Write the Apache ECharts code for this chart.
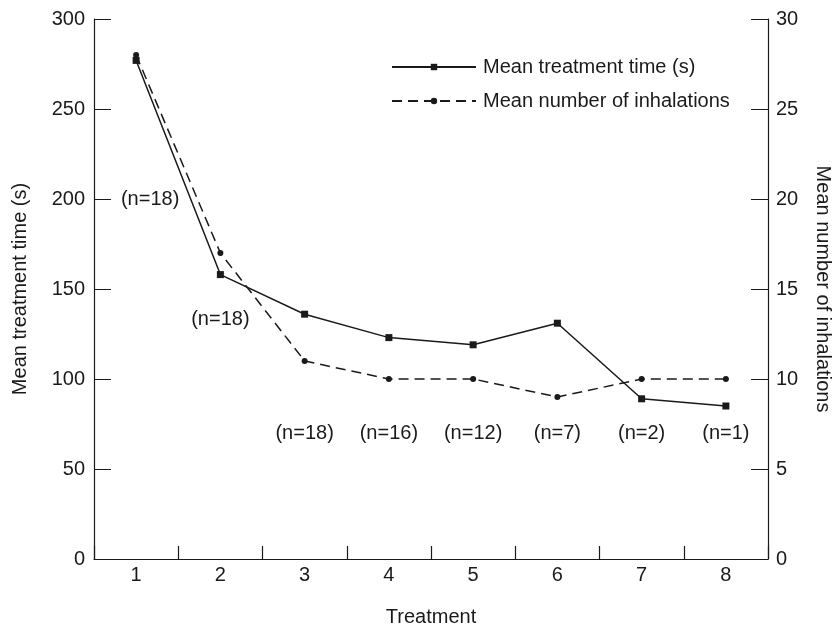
<!DOCTYPE html>
<html>
<head>
<meta charset="utf-8">
<script src="https://cdn.jsdelivr.net/npm/echarts@6/dist/echarts.min.js"></script>
<style>
  html, body { margin: 0; padding: 0; background: #fff; }
  #chart { width: 835px; height: 628px; }
</style>
</head>
<body>
<div id="chart"></div>
<script>
const treatments = ["1", "2", "3", "4", "5", "6", "7", "8"]
const meanTime = [277, 158, 136, 123, 119, 131, 89, 85]
const meanInhalations = [28, 17, 11, 10, 10, 9, 10, 10]
const nLabels = ["(n=18)", "(n=18)", "(n=18)", "(n=16)", "(n=12)", "(n=7)", "(n=2)", "(n=1)"]
// where each (n=..) note sits, in left-axis units
const nLabelAt = [200, 133, 70, 70, 70, 70, 70, 70]

const ink = "#1a1a1a"
const font = "Liberation Sans, Arial, sans-serif"

const chart = echarts.init(document.getElementById("chart"))

const option = {
  animation: false,
  textStyle: { fontFamily: font, color: ink },
  grid: { left: 94, right: 67, top: 19, bottom: 69, outerBoundsMode: "none" },
  legend: {
    orient: "vertical",
    left: 386,
    top: 52,
    itemWidth: 84,
    itemHeight: 8,
    itemGap: 14,
    data: ["Mean treatment time (s)", "Mean number of inhalations"],
    textStyle: { fontSize: 20, color: ink, fontFamily: font, padding: [0, 0, 0, 2] },
  },
  xAxis: {
    type: "category",
    data: treatments,
    name: "Treatment",
    nameLocation: "middle",
    nameGap: 48,
    nameTextStyle: { fontSize: 20, color: ink },
    axisLine: { lineStyle: { color: ink, width: 1.2 } },
    axisTick: { show: true, inside: true, length: 13, lineStyle: { color: ink, width: 1.2 } },
    axisLabel: { fontSize: 20, color: ink, margin: 6 },
  },
  yAxis: [
    {
      type: "value",
      min: 0,
      max: 300,
      interval: 50,
      name: "Mean treatment time (s)",
      nameLocation: "middle",
      nameGap: 64,
      nameTextStyle: { fontSize: 20, color: ink },
      axisLine: { show: true, lineStyle: { color: ink, width: 1.2 } },
      axisTick: { show: true, inside: true, length: 17, lineStyle: { color: ink } },
      axisLabel: { fontSize: 20, color: ink, margin: 9 },
      splitLine: { show: false },
    },
    {
      type: "value",
      min: 0,
      max: 30,
      interval: 5,
      position: "right",
      name: "Mean number of inhalations",
      nameLocation: "middle",
      nameRotate: -90,
      nameGap: 45,
      nameTextStyle: { fontSize: 20, color: ink },
      axisLine: { show: true, lineStyle: { color: ink, width: 1.2 } },
      axisTick: { show: true, inside: true, length: 17, lineStyle: { color: ink } },
      axisLabel: { fontSize: 20, color: ink, margin: 8 },
      splitLine: { show: false },
    },
  ],
  series: [
    {
      name: "Mean treatment time (s)",
      type: "line",
      yAxisIndex: 0,
      data: meanTime,
      symbol: "rect",
      symbolSize: 7,
      lineStyle: { color: ink, width: 1.5 },
      itemStyle: { color: ink },
    },
    {
      name: "Mean number of inhalations",
      type: "line",
      yAxisIndex: 1,
      data: meanInhalations,
      symbol: "circle",
      symbolSize: 6,
      lineStyle: { color: ink, width: 1.5, type: [10, 6] },
      itemStyle: { color: ink },
    },
    {
      name: "n",
      type: "scatter",
      yAxisIndex: 0,
      symbolSize: 0,
      silent: true,
      itemStyle: { opacity: 1 },
      data: nLabelAt.map((v, i) => ({
        value: [treatments[i], v],
        // first note sits a little right of its category
        label: i === 0 ? { offset: [14, 0] } : undefined,
      })),
      label: {
        show: true,
        position: "inside",
        fontSize: 20,
        color: ink,
        formatter: (p) => nLabels[p.dataIndex],
      },
    },
  ],
}

chart.setOption(option)
</script>
</body>
</html>
